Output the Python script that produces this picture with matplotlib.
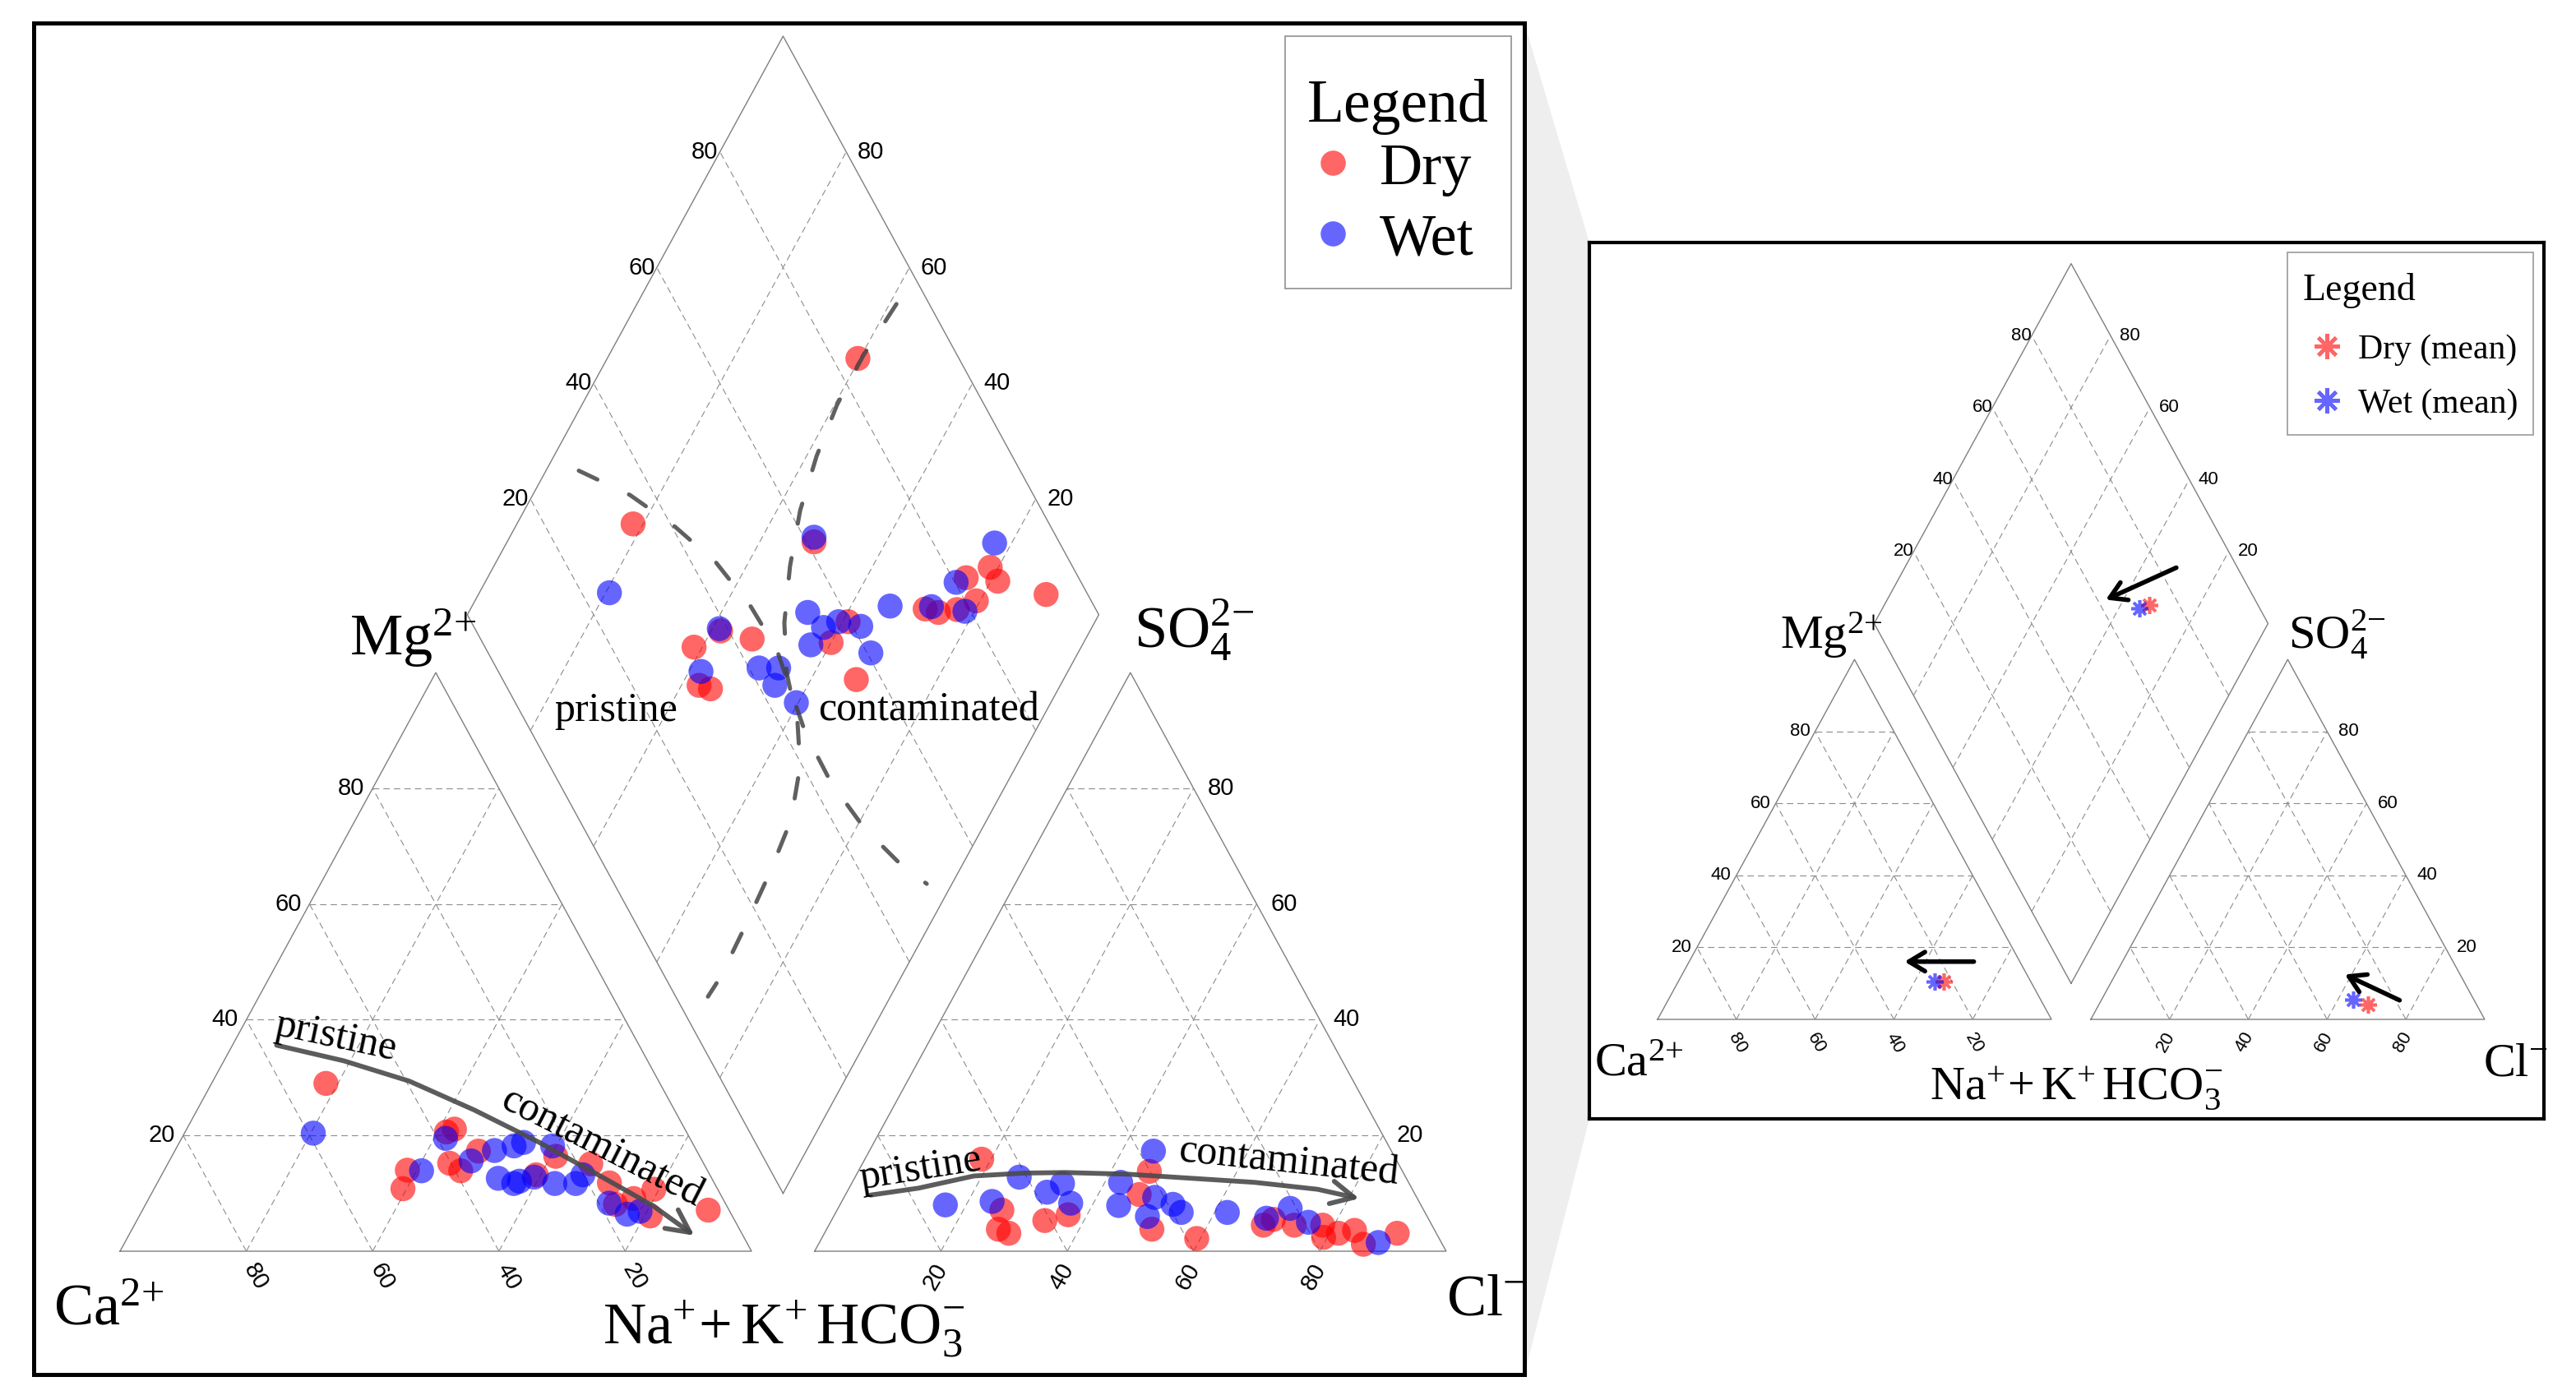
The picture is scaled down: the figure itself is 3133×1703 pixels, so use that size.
import numpy as np
import matplotlib
matplotlib.use('Agg')
import matplotlib.pyplot as plt
from matplotlib.lines import Line2D
from matplotlib.patches import FancyArrowPatch, Polygon
from matplotlib.path import Path
from matplotlib.offsetbox import DrawingArea, VPacker

plt.rcParams['font.family'] = ['Liberation Serif', 'DejaVu Serif']
plt.rcParams['mathtext.fontset'] = 'custom'
plt.rcParams['mathtext.rm'] = 'Liberation Serif'
plt.rcParams['mathtext.it'] = 'Liberation Serif:italic'
plt.rcParams['mathtext.bf'] = 'Liberation Serif:bold'

W, H = 3133, 1703
SQ = np.sqrt(3) / 2
GAP = 10
RED, BLUE = 'red', 'blue'

# ──────────────────────────────────────────────────────────────────────────────
# Data (meq %)
# ──────────────────────────────────────────────────────────────────────────────

# cation triangle: Mg %, Na+K %
dry_cat_mg = [29.0, 21.1, 20.6, 14.0, 10.8, 17.3, 15.2, 13.9, 16.4, 13.2, 15.1,
              11.8, 10.7, 8.1, 9.1, 6.1, 7.1]
dry_cat_nak = [18.1, 42.4, 41.4, 38.5, 39.4, 48.1, 44.6, 47.0, 60.8, 59.3, 67.0,
               71.6, 79.2, 74.4, 76.8, 80.9, 89.6]
wet_cat_mg = [20.4, 19.5, 13.9, 17.4, 15.6, 18.2, 18.8, 18.2, 12.6, 11.7, 12.1,
              12.8, 11.7, 11.7, 13.2, 8.3, 6.4, 6.9]
wet_cat_nak = [20.4, 41.8, 40.8, 50.6, 47.8, 53.3, 54.5, 59.4, 53.6, 56.5, 57.2,
               59.2, 63.0, 66.3, 66.7, 73.3, 77.1, 78.9]

# anion triangle: SO4 %, Cl %
dry_an_so4 = [15.9, 7.1, 3.8, 3.1, 5.3, 6.3, 13.8, 9.8, 3.8, 2.2, 4.5, 5.5, 4.5,
              4.5, 2.4, 3.1, 3.6, 1.2, 3.1]
dry_an_cl = [18.5, 26.1, 27.2, 29.2, 33.8, 37.0, 46.1, 46.5, 51.5, 59.4, 68.8,
             69.9, 73.7, 78.2, 79.4, 81.4, 83.7, 86.3, 90.7]
wet_an_so4 = [12.8, 8.0, 8.6, 10.2, 11.7, 8.3, 11.9, 7.9, 17.3, 9.3, 6.0, 8.1,
              6.7, 6.7, 5.7, 7.4, 5.0, 1.5]
wet_an_cl = [26.0, 16.7, 23.8, 31.7, 33.4, 36.4, 42.5, 44.2, 45.0, 49.2, 49.7,
             52.7, 54.7, 62.0, 68.7, 71.6, 75.7, 88.5]

# diamond: Ca+Mg %, Cl+SO4 %
dry_dia_camg = [60.3, 81.6, 51.4, 58.5, 61.3, 57.2, 55.1, 52.8, 39.1, 40.0, 32.8,
                28.0, 25.6, 22.9, 24.2, 20.6, 21.3, 18.9, 10.1]
dry_dia_clso4 = [84.0, 34.1, 61.2, 38.7, 33.1, 30.6, 32.1, 43.0, 59.7, 55.2, 56.0,
                 73.0, 74.8, 78.0, 82.2, 81.8, 86.9, 86.9, 93.4]
wet_dia_camg = [79.4, 51.8, 58.9, 58.1, 49.2, 46.1, 45.2, 40.3, 46.3, 42.5, 40.6,
                36.7, 43.0, 32.8, 33.8, 27.2, 21.5, 25.4, 22.7]
wet_dia_clso4 = [24.4, 61.6, 38.7, 32.1, 41.6, 44.7, 42.6, 44.5, 54.1, 55.3, 58.2,
                 61.3, 51.8, 60.6, 67.7, 74.2, 79.1, 80.2, 89.7]

# seasonal means (inset)
mean_labels = ['Dry (mean)', 'Wet (mean)']
mean_colors = [RED, BLUE]
mean_mg = [10.5, 10.5]
mean_nak = [67.3, 65.1]
mean_so4 = [4.1, 5.5]
mean_cl = [68.3, 63.9]

# pristine -> contaminated trend curves
cat_trend_mg = [35.6, 32.9, 29.4, 24.4, 18.8, 12.6, 7.9, 2.7]
cat_trend_nak = [7.0, 19.0, 31.1, 43.9, 57.0, 70.4, 80.4, 89.6]
an_trend_so4 = [9.7, 10.9, 13.0, 13.5, 13.6, 13.3, 12.6, 11.9, 10.7, 9.1]
an_trend_cl = [4.0, 11.0, 18.7, 26.4, 32.9, 43.1, 53.4, 63.7, 74.3, 81.7]

# diamond boundaries (Ca+Mg %, Cl+SO4 %)
bound1_camg = [94.8, 84.6, 74.7, 65.1, 55.8, 48.0, 41.1, 36.1, 27.9, 18.8, 9.3, 4.0]
bound1_clso4 = [30.1, 36.1, 40.5, 43.9, 45.6, 46.0, 44.4, 43.3, 43.1, 44.4, 47.2, 49.5]
bound2_camg = [58.9, 59.7, 59.6, 58.4, 56.3, 53.1, 49.1, 44.3, 38.3, 34.2, 31.0,
               29.8, 29.1, 28.6, 28.9]
bound2_clso4 = [94.8, 85.2, 76.7, 69.0, 61.7, 55.3, 49.5, 45.5, 42.9, 39.6, 33.5,
                25.5, 17.3, 8.8, 5.1]

# mean-shift arrows in the inset (plot units)
shift_x0 = [80.3, 188.4, 131.7]
shift_y0 = [13.9, 4.6, 108.7]
shift_x1 = [62.7, 174.5, 113.8]
shift_y1 = [13.9, 10.8, 101.0]

grid_vals = [20, 40, 60, 80]


# ──────────────────────────────────────────────────────────────────────────────
# Piper geometry
# ──────────────────────────────────────────────────────────────────────────────

def cat_xy(mg, nak):
    mg, nak = np.asarray(mg, float), np.asarray(nak, float)
    return nak + 0.5 * mg, SQ * mg


def an_xy(so4, cl):
    so4, cl = np.asarray(so4, float), np.asarray(cl, float)
    return 100 + GAP + cl + 0.5 * so4, SQ * so4


def dia_xy(camg, clso4):
    camg, clso4 = np.asarray(camg, float), np.asarray(clso4, float)
    return 100 + GAP / 2 + 0.5 * (clso4 - camg), SQ * (GAP + camg + clso4)


def make_panel(fig, box, origin, scale, lw):
    x0, y0, x1, y1 = box
    ax = fig.add_axes([x0 / W, 1 - y1 / H, (x1 - x0) / W, (y1 - y0) / H])
    ox, oy = origin
    sx, sy = scale
    ax.set_xlim((x0 - ox) / sx, (x1 - ox) / sx)
    ax.set_ylim((oy - y1) / sy, (oy - y0) / sy)
    ax.set_xticks([])
    ax.set_yticks([])
    for s in ax.spines.values():
        s.set_linewidth(lw)
        s.set_color('black')
    return ax


def draw_frame(ax, st):
    edge = dict(color='#7f7f7f', lw=1.0, zorder=1)
    grid = dict(color='#8c8c8c', lw=0.8, ls=(0, (7, 4.5)), zorder=1)

    ax.plot(*cat_xy([0, 0, 100, 0], [0, 100, 0, 0]), **edge)
    ax.plot(*an_xy([0, 0, 100, 0], [0, 100, 0, 0]), **edge)
    ax.plot(*dia_xy([0, 100, 100, 0, 0], [0, 0, 100, 100, 0]), **edge)

    for v in grid_vals:
        ax.plot(*cat_xy([v, v], [0, 100 - v]), **grid)
        ax.plot(*cat_xy([0, 100 - v], [v, v]), **grid)
        ax.plot(*cat_xy([0, 100 - v], [100 - v, 0]), **grid)
        ax.plot(*an_xy([v, v], [0, 100 - v]), **grid)
        ax.plot(*an_xy([0, 100 - v], [v, v]), **grid)
        ax.plot(*an_xy([0, 100 - v], [100 - v, 0]), **grid)
        ax.plot(*dia_xy([v, v], [0, 100]), **grid)
        ax.plot(*dia_xy([0, 100], [v, v]), **grid)

    tk = dict(textcoords='offset points', fontsize=st['tick_fs'],
              family=['Liberation Sans', 'DejaVu Sans'])
    for v in grid_vals:
        lab = str(v)
        ax.annotate(lab, cat_xy(v, 0), xytext=st['off_mg'], ha='right', va='center', **tk)
        ax.annotate(lab, an_xy(v, 100 - v), xytext=st['off_so4'], ha='left', va='center', **tk)
        ax.annotate(lab, dia_xy(100, v), xytext=st['off_dl'], ha='right', va='center', **tk)
        ax.annotate(lab, dia_xy(v, 100), xytext=st['off_dr'], ha='left', va='center', **tk)
        ax.annotate(lab, cat_xy(0, 100 - v), xytext=st['off_ca'], ha='center', va='center',
                    rotation=-60, **tk)
        ax.annotate(lab, an_xy(0, v), xytext=st['off_cl'], ha='center', va='center',
                    rotation=60, **tk)

    fs = st['lab_fs']
    lp = st['lab_pos']
    ax.text(*lp['ca'], r'$\mathrm{Ca}^{2{+}}$', fontsize=fs, ha='left', va='baseline')
    ax.text(*lp['mg'], r'$\mathrm{Mg}^{2{+}}$', fontsize=fs, ha='left', va='baseline')
    ax.text(*lp['so4'], r'$\mathrm{SO}_4^{2{-}}$', fontsize=fs, ha='left', va='baseline')
    ax.text(*lp['cl'], r'$\mathrm{Cl}^{-}$', fontsize=fs, ha='left', va='baseline')
    ax.text(*lp['nak'], r'$\mathrm{Na}^{+}\!+\mathrm{K}^{+}\,\mathrm{HCO}_3^{-}$',
            fontsize=fs, ha='center', va='baseline')


def trend_arrow(ax, x, y):
    verts = np.column_stack([x, y])
    codes = [Path.MOVETO] + [Path.LINETO] * (len(verts) - 1)
    arr = FancyArrowPatch(path=Path(verts, codes),
                          arrowstyle='->,head_length=0.5,head_width=0.25',
                          mutation_scale=40, lw=4.2, color='#4a4a4a', alpha=0.9,
                          capstyle='round', joinstyle='round', zorder=4)
    ax.add_patch(arr)


def tune_legend(fig, leg, title_gap, top_extra=0):
    # gap between title and entries, plus extra room above the title only
    box = leg._legend_box
    box.sep = title_gap
    if top_extra:
        wrap = VPacker(children=[DrawingArea(1, top_extra), box._children[0]],
                       pad=0, sep=0, align='left')
        wrap.set_figure(fig)
        box._children[0] = wrap


# ──────────────────────────────────────────────────────────────────────────────
# Figure
# ──────────────────────────────────────────────────────────────────────────────

fig = plt.figure(figsize=(W / 100, H / 100), dpi=100)

main_box = (41, 28, 1854, 1672)
inset_box = (1933, 295, 3094, 1361)

# grey zoom connector between the panels
fig.add_artist(Polygon([(main_box[2] / W, 1 - main_box[1] / H),
                        (inset_box[0] / W, 1 - inset_box[1] / H),
                        (inset_box[0] / W, 1 - inset_box[3] / H),
                        (main_box[2] / W, 1 - main_box[3] / H)],
                       closed=True, transform=fig.transFigure,
                       facecolor='#eeeeee', edgecolor='none', zorder=0))

ax = make_panel(fig, main_box, (146, 1522), (7.68, 8.127), 3.6)
main_style = dict(tick_fs=21, lab_fs=52,
                  off_mg=(-7, 0), off_so4=(12, 0), off_dl=(-1.5, 0), off_dr=(10, 0),
                  off_ca=(8, -22), off_cl=(-5, -22),
                  lab_pos={'ca': (-10.5, -11.0), 'mg': (36.3, 89.2),
                           'so4': (160.6, 90.4), 'cl': (210.0, -9.5),
                           'nak': (105.1, -13.9)})
draw_frame(ax, main_style)

pt = dict(s=480, alpha=0.6, edgecolors='none', zorder=3)
ax.scatter(*cat_xy(dry_cat_mg, dry_cat_nak), color=RED, **pt)
ax.scatter(*cat_xy(wet_cat_mg, wet_cat_nak), color=BLUE, **pt)
ax.scatter(*an_xy(dry_an_so4, dry_an_cl), color=RED, **pt)
ax.scatter(*an_xy(wet_an_so4, wet_an_cl), color=BLUE, **pt)
ax.scatter(*dia_xy(dry_dia_camg, dry_dia_clso4), color=RED, **pt)
ax.scatter(*dia_xy(wet_dia_camg, wet_dia_clso4), color=BLUE, **pt)

bnd = dict(color='#444444', alpha=0.85, lw=3.6, dashes=(5, 8.5),
           dash_capstyle='round', zorder=4)
ax.plot(*dia_xy(bound1_camg, bound1_clso4), **bnd)
ax.plot(*dia_xy(bound2_camg, bound2_clso4), **bnd)

trend_arrow(ax, *cat_xy(cat_trend_mg, cat_trend_nak))
trend_arrow(ax, *an_xy(an_trend_so4, an_trend_cl))

note = dict(fontsize=36, ha='center', va='center', zorder=5)
ax.text(34.1, 32.0, 'pristine', rotation=-12, **note)
ax.text(76.2, 15.4, 'contaminated', rotation=-27, **note)
ax.text(126.8, 12.3, 'pristine', rotation=9, **note)
ax.text(185.0, 13.2, 'contaminated', rotation=-6, **note)
ax.text(78.5, 79.4, 'pristine', fontsize=36, ha='center', va='baseline', zorder=5)
ax.text(128.1, 79.4, 'contaminated', fontsize=36, ha='center', va='baseline', zorder=5)

handles = [Line2D([], [], ls='none', marker='o', ms=22, mfc=c, mec='none',
                  alpha=0.6, label=l) for c, l in [(RED, 'Dry'), (BLUE, 'Wet')]]
leg = ax.legend(handles=handles, title='Legend', loc='upper right',
                bbox_to_anchor=(0.9912, 0.9903), borderaxespad=0,
                fontsize=52, title_fontsize=53, frameon=True, fancybox=False,
                edgecolor='#999999', framealpha=1, borderpad=0.375,
                handlelength=0.86, handletextpad=0.35, labelspacing=0.28,
                alignment='left')
leg.get_frame().set_linewidth(1.3)
tune_legend(fig, leg, title_gap=6.5, top_extra=18)

# ── inset: seasonal means ────────────────────────────────────────────────────
ax2 = make_panel(fig, inset_box, (2016, 1240), (4.79, 5.055), 3.0)
inset_style = dict(tick_fs=16, lab_fs=42,
                   off_mg=(-4.5, 0), off_so4=(10, 0), off_dl=(0, 0), off_dr=(8, 0),
                   off_ca=(1, -21), off_cl=(-3, -20),
                   lab_pos={'ca': (-16.1, -13.5), 'mg': (31.1, 89.2),
                            'so4': (160.1, 89.2), 'cl': (209.6, -13.5),
                            'nak': (106.2, -19.1)})
draw_frame(ax2, inset_style)

star = dict(ls='none', marker=(8, 2, 0), ms=15, mew=2.6, alpha=0.6, zorder=3)
mean_camg = [100 - n for n in mean_nak]
mean_clso4 = [c + s for c, s in zip(mean_cl, mean_so4)]
for i in [0, 1]:
    c = mean_colors[i]
    ax2.plot(*cat_xy(mean_mg[i], mean_nak[i]), color=c, **star)
    ax2.plot(*an_xy(mean_so4[i], mean_cl[i]), color=c, **star)
    ax2.plot(*dia_xy(mean_camg[i], mean_clso4[i]), color=c, **star)

for x0, y0, x1, y1 in zip(shift_x0, shift_y0, shift_x1, shift_y1):
    ax2.annotate('', xy=(x1, y1), xytext=(x0, y0),
                 arrowprops=dict(arrowstyle='->,head_length=0.5,head_width=0.3',
                                 mutation_scale=28, lw=4.0, color='black',
                                 shrinkA=0, shrinkB=0), zorder=4)

handles2 = [Line2D([], [], ls='none', marker=(8, 2, 0), ms=22, mew=3.2, color=c,
                   alpha=0.6, label=l) for c, l in zip(mean_colors, mean_labels)]
leg2 = ax2.legend(handles=handles2, title='Legend', loc='upper right',
                  bbox_to_anchor=(0.9888, 0.989), borderaxespad=0,
                  fontsize=30, title_fontsize=33, frameon=True, fancybox=False,
                  edgecolor='#999999', framealpha=1, borderpad=0.45,
                  handlelength=1.4, handletextpad=0.2, labelspacing=0.65,
                  alignment='left')
leg2.get_frame().set_linewidth(1.2)
tune_legend(fig, leg2, title_gap=22.3, top_extra=5)

fig.savefig('out.png', dpi=100, facecolor='white')
